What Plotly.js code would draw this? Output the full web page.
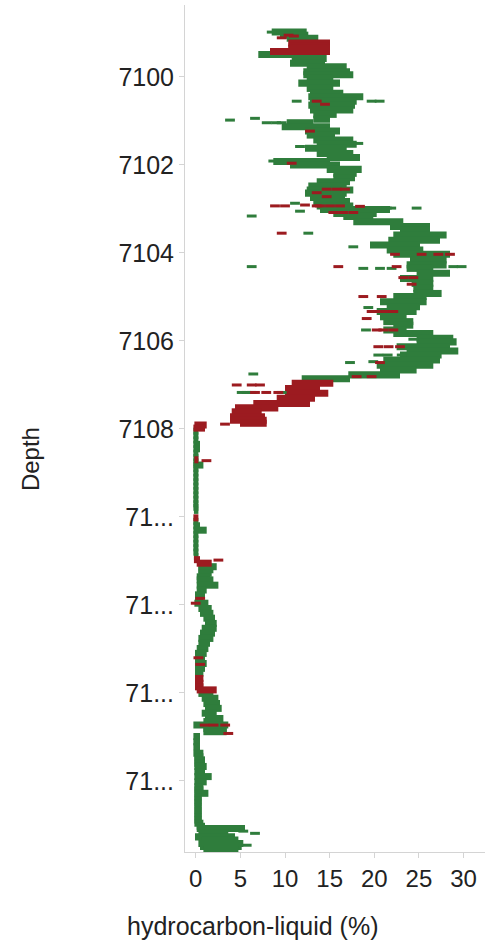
<!DOCTYPE html>
<html>
<head>
<meta charset="utf-8">
<script src="https://cdn.plot.ly/plotly-3.0.1.min.js"></script>
<style>html,body{margin:0;padding:0;background:#fff;}#chart{width:486px;height:943px;}</style>
</head>
<body>
<div id="chart"></div>
<script>
// Band rows: depth, left edge, right edge, fluid flag
var bandDepth = [7098.98,7099.05,7099.12,7099.23,7099.29,7099.35,7099.42,7099.49,7099.58,7099.69,7099.77,7099.88,7099.95,7100.03,7100.14,7100.26,7100.37,7100.45,7100.55,7100.64,7100.75,7100.85,7100.96,7101.04,7101.13,7101.23,7101.32,7101.43,7101.53,7101.62,7101.74,7101.83,7101.92,7102.0,7102.1,7102.19,7102.29,7102.38,7102.48,7102.57,7102.64,7102.74,7102.83,7102.93,7103.01,7103.1,7103.17,7103.29,7103.4,7103.48,7103.59,7103.71,7103.82,7103.93,7104.03,7104.16,7104.27,7104.35,7104.46,7104.58,7104.69,7104.8,7104.92,7104.99,7105.11,7105.22,7105.33,7105.45,7105.56,7105.64,7105.75,7105.83,7105.94,7106.02,7106.13,7106.23,7106.32,7106.43,7106.55,7106.66,7106.77,7106.86,7106.96,7107.08,7107.19,7107.3,7107.42,7107.52,7107.61,7107.72,7107.8,7107.87,
7107.91,7107.98,7108.05,7108.15,7108.25,7108.35,7108.45,7108.55,7108.65,7108.7,7108.75,7108.82,7108.9,7109.0,7109.1,7109.2,7109.3,7109.4,7109.5,7109.6,7109.7,7109.78,7109.85,
7110.02,7110.1,7110.2,7110.3,7110.4,7110.5,7110.6,7110.7,7110.8,7110.9,7110.97,7111.05,7111.13,7111.2,7111.28,7111.36,7111.43,7111.55,7111.66,7111.77,7111.85,
7111.96,7112.08,7112.19,7112.3,7112.42,7112.53,7112.64,7112.76,7112.87,7112.99,7113.1,7113.21,7113.33,7113.44,7113.55,7113.67,7113.78,7113.86,7113.93,7114.01,7114.12,7114.24,7114.35,7114.46,7114.58,7114.65,7114.73,7114.81,7114.88,
7114.99,7115.11,7115.22,7115.37,7115.45,7115.52,7115.6,7115.67,7115.79,7115.9,7116.02,7116.13,7116.2,7116.28,7116.36,7116.43,7116.5,7116.58,7116.66,7116.74,7116.81,7116.89,7116.96,7117.03,7117.08,7117.19,7117.27,7117.34,7117.42,7117.49,7117.56];
var bandLo = [8.51,9.44,10.19,10.37,10.4,10.37,8.32,7.01,10.75,10.56,12.43,12.05,12.05,12.43,11.49,12.43,12.8,12.61,12.8,12.61,12.8,13.17,13.17,10.19,9.63,12.24,12.43,13.17,13.55,12.24,13.55,14.67,8.69,10.56,14.67,15.41,15.41,13.55,12.61,12.43,12.24,12.8,13.17,13.55,13.92,15.41,16.53,17.65,21.76,22.88,22.13,21.57,19.52,21.39,22.13,24.0,23.62,23.62,24.74,22.88,24.18,24.37,24.37,22.13,20.64,21.39,20.27,20.64,21.01,22.13,21.01,22.13,24.74,24.74,22.5,23.62,22.88,21.01,20.27,20.64,17.09,11.87,10.75,10.0,10.0,9.07,6.45,4.4,4.03,3.84,3.84,4.96,
-0.15,-0.26,-0.26,-0.26,-0.26,-0.26,-0.26,-0.26,-0.26,-0.15,-0.26,-0.26,-0.26,-0.26,-0.26,-0.26,-0.26,-0.26,-0.26,-0.26,-0.26,-0.26,-0.2,
-0.26,-0.26,-0.26,-0.26,-0.26,-0.26,-0.26,-0.26,-0.26,-0.2,-0.2,0.11,0.3,0.3,0.3,0.11,0.11,0.11,0.11,-0.08,-0.08,
-0.15,0.3,0.48,0.86,1.04,0.67,0.48,0.3,0.3,0.11,-0.08,-0.08,-0.08,-0.08,-0.08,-0.08,-0.08,-0.08,0.11,0.3,0.67,0.86,1.04,0.67,1.04,0.86,-0.26,0.86,0.86,
-0.26,-0.26,-0.26,-0.26,-0.15,-0.15,-0.15,-0.15,-0.15,-0.15,-0.15,-0.15,-0.15,-0.15,-0.15,-0.15,-0.15,-0.15,-0.15,-0.15,-0.15,-0.15,-0.15,0.11,0.11,0.3,-0.08,0.67,0.3,0.48,0.86];
var bandHi = [12.43,12.61,13.73,15.04,15.0,15.04,15.04,11.31,14.67,14.48,16.91,17.28,17.65,15.41,16.16,15.41,16.53,18.77,18.03,17.84,17.65,15.79,15.04,13.17,15.04,16.16,15.6,17.65,18.03,16.91,17.65,18.4,15.04,16.16,18.59,18.03,17.84,17.28,16.91,17.65,16.91,16.72,17.28,17.65,21.76,20.27,19.89,23.25,26.24,26.24,28.1,27.36,25.12,25.49,28.48,28.1,28.1,26.61,28.48,26.61,26.61,26.61,27.54,25.86,25.86,25.12,24.74,23.62,24.37,24.37,23.62,26.61,28.85,29.22,28.48,29.41,27.54,27.36,26.61,24.74,22.88,17.28,15.41,13.92,14.85,13.36,12.8,9.25,7.39,7.76,7.95,7.95,
1.23,1.04,0.3,0.3,0.3,0.48,0.48,0.3,0.3,0.3,0.3,0.86,0.3,0.3,0.3,0.3,0.3,0.3,0.3,0.3,0.3,0.3,0.3,
0.3,0.3,0.48,1.23,0.3,0.3,0.3,0.3,0.3,0.3,0.48,1.79,2.35,1.98,1.79,1.6,1.98,2.54,1.23,1.04,0.86,
1.42,1.79,1.98,2.16,2.35,2.35,2.16,1.98,1.6,1.42,1.23,1.04,1.23,1.04,0.86,0.86,0.86,0.86,2.35,1.98,2.54,2.72,2.91,2.35,3.1,2.91,3.65,3.47,3.47,
0.48,0.48,0.48,0.86,0.86,1.04,1.04,1.23,1.04,1.79,1.23,0.86,0.86,1.42,0.67,0.67,0.67,0.67,0.67,0.67,0.67,0.67,0.86,1.04,5.52,3.65,4.4,4.78,5.33,5.15,4.78];
var bandFlag = "gggrrrrgggggggggggggggggggggggggggggggggggggggggggggggggggggggggggggggggggggggggggrrrrrrrrrrr"+
"rgggggggrgggggggggggggr"+"gggggggggrrggggggggggg"+"gggggggggggggrrrrgggggggggggg"+"ggggggggggggggggggggggggggggggg";

// Isolated samples
var greenX = [11.31,19.7,20.6,3.84,6.64,7.95,9.0,9.63,8.69,11.68,18.21,11.12,6.27,11.68,24.74,21.4,21.9,12.61,17.65,6.27,18.77,20.64,21.94,28.85,29.78,19.33,19.07,17.28,19.89,20.45,21.5,23.07,24.37,6.45,5.15,5.7,6.27,9.63,6.64,5.71,5.33,8.51];
var greenY = [7100.55,7100.55,7100.55,7100.98,7100.94,7101.04,7101.04,7101.04,7101.91,7101.58,7101.51,7102.87,7103.16,7103.05,7102.98,7102.98,7102.98,7103.55,7103.86,7104.31,7104.35,7104.35,7104.35,7104.31,7104.31,7105.24,7105.75,7106.49,7106.47,7106.32,7106.32,7106.32,7105.96,7106.75,7107.17,7107.17,7107.17,7107.17,7117.19,7117.46,7117.14,7098.98];
var redX = [9.63,10.4,11.0,8.88,10.0,12.24,13.55,13.92,15.04,16.16,18.4,14.67,15.8,16.72,12.8,13.55,14.48,10.75,15.41,16.5,17.65,13.55,14.67,9.63,15.97,22.5,22.32,25.3,27.17,28.48,23.25,24.37,24.18,18.77,20.83,19.15,19.7,20.64,21.4,22.13,20.27,21.01,22.13,20.45,21.6,22.88,20.64,18.02,19.7,4.59,6.27,7.2,6.64,7.9,9.25,3.28,2.54,3.65,0.0,0.3,0.5,1.0,2.0,3.3,0.5,1.2];
var redY = [7099.11,7099.05,7099.07,7102.93,7102.93,7102.91,7102.93,7102.93,7102.93,7102.93,7102.94,7102.55,7102.55,7102.55,7101.23,7100.55,7100.62,7101.96,7103.08,7103.08,7103.08,7102.63,7102.72,7103.55,7104.31,7104.31,7104.03,7104.03,7104.03,7104.03,7104.56,7104.56,7104.71,7104.99,7104.99,7105.49,7105.33,7105.33,7105.33,7105.33,7105.75,7105.75,7105.75,7106.13,7106.13,7106.13,7106.49,7106.81,7106.81,7107.0,7107.0,7107.0,7107.17,7107.17,7107.17,7107.89,7110.98,7114.92,7111.96,7113.2,7113.35,7114.73,7114.73,7114.73,7111.85,7108.72];

var depthTicks = [7100,7102,7104,7106,7108,7110,7112,7114,7116];
var depthTickText = ['7100','7102','7104','7106','7108','71...','71...','71...','71...'];
var valueTicks = [0,5,10,15,20,25,30];

var GREEN = '#2f7d3c', RED = '#9c1b20';

function bandTrace(flag, color) {
  var y = [], base = [], len = [];
  for (var i = 0; i < bandDepth.length; i++) {
    if (bandFlag.charAt(i) === flag) {
      y.push(bandDepth[i]); base.push(bandLo[i]); len.push(bandHi[i] - bandLo[i]);
    }
  }
  return {type:'bar', orientation:'h', y:y, x:len, base:base, width:0.16,
          marker:{color:color, line:{width:0}}, hoverinfo:'skip'};
}
function dashTrace(x, y, color) {
  return {type:'scatter', mode:'markers', x:x, y:y,
          marker:{symbol:'line-ew', size:7, color:color, line:{color:color, width:3}}, hoverinfo:'skip'};
}

var traces = [bandTrace('g', GREEN), bandTrace('r', RED), dashTrace(greenX, greenY, GREEN), dashTrace(redX, redY, RED)];

var tickFont = {family:'"Liberation Sans",Arial,sans-serif', color:'#222'};
var layout = {
  width:486, height:943,
  margin:{l:185, r:1, t:5, b:91},
  paper_bgcolor:'#fff', plot_bgcolor:'#fff',
  showlegend:false, barmode:'overlay', hovermode:false,
  xaxis:{range:[-1.2,32.4], tickvals:valueTicks, ticks:'outside', ticklen:5, tickcolor:'#d4d4d4',
         showline:true, linecolor:'#d4d4d4', linewidth:1, showgrid:false, zeroline:false,
         tickfont:Object.assign({size:24}, tickFont)},
  yaxis:{range:[7117.614,7098.364], tickvals:depthTicks, ticktext:depthTickText, ticks:'outside', ticklen:5,
         tickcolor:'#d4d4d4', showline:true, linecolor:'#d4d4d4', linewidth:1, showgrid:false, zeroline:false,
         tickfont:Object.assign({size:25}, tickFont)},
  annotations:[
    {text:'hydrocarbon-liquid (%)', xref:'paper', yref:'paper', x:0.228, y:-0.0874, xanchor:'center', yanchor:'middle',
     showarrow:false, font:{family:'"Liberation Sans",Arial,sans-serif', size:25, color:'#222'}},
    {text:'Depth', xref:'paper', yref:'paper', x:-0.513, y:0.464, xanchor:'center', yanchor:'middle', textangle:-90,
     showarrow:false, font:{family:'"Liberation Sans",Arial,sans-serif', size:24, color:'#222'}}
  ]
};
Plotly.newPlot('chart', traces, layout, {displayModeBar:false, staticPlot:true});
</script>
</body>
</html>
